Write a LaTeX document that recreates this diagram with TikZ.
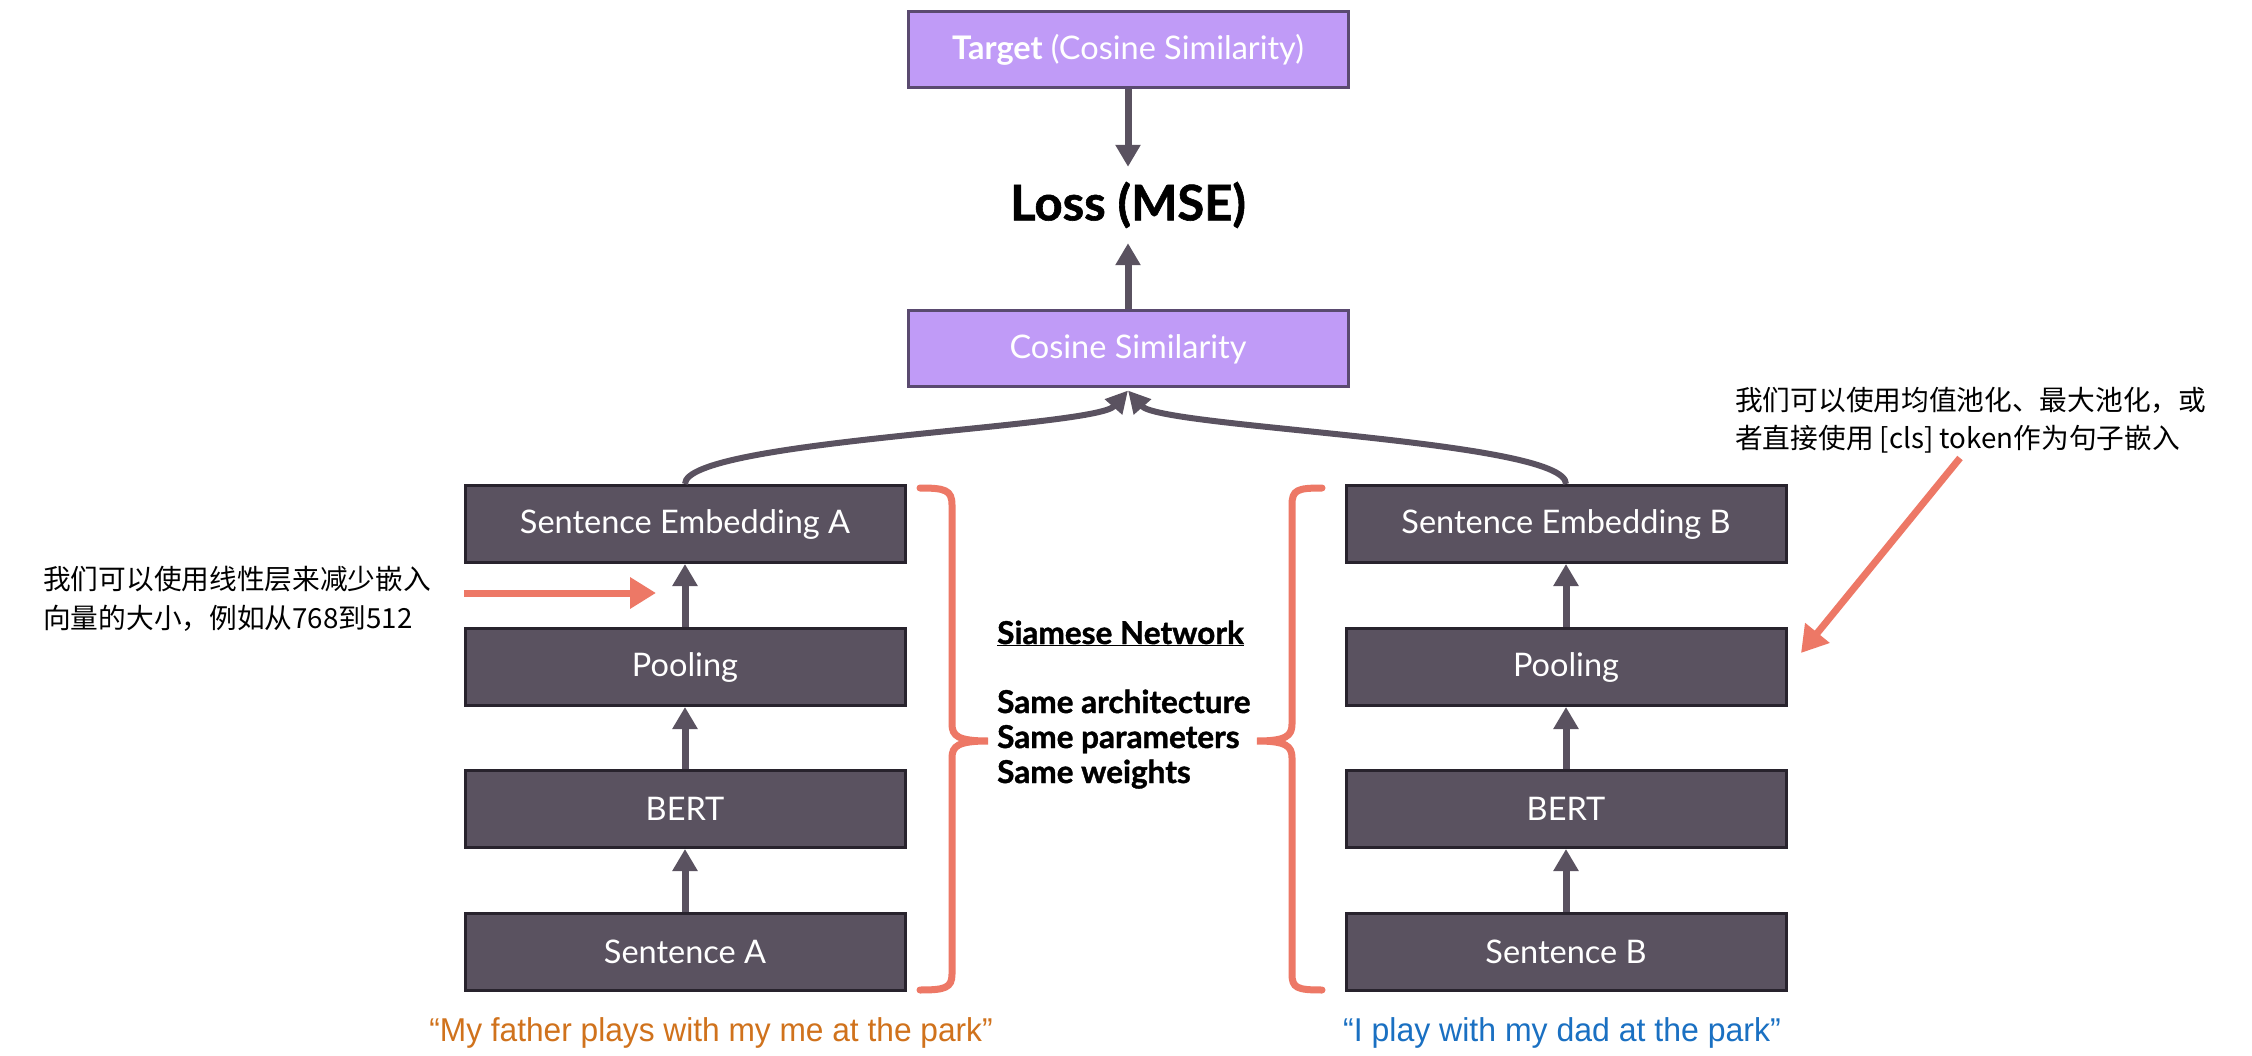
\documentclass[tikz,border=0pt]{standalone}
\usepackage{fontspec}
\usepackage{graphicx}
\setmainfont{Lato}
\newfontfamily\heavy{Lato}[BoldFeatures={FakeBold=1.2}]
\newfontfamily\cjk{Noto Sans CJK SC}
\newfontfamily\arialf{Liberation Sans}
\usetikzlibrary{arrows.meta}
\definecolor{boxdark}{RGB}{90,82,96}
\definecolor{boxedge}{RGB}{40,35,45}
\definecolor{lav}{RGB}{192,155,247}
\definecolor{lavedge}{RGB}{90,74,112}
\definecolor{arr}{RGB}{90,82,96}
\definecolor{salmon}{RGB}{237,120,102}
\definecolor{orangetxt}{RGB}{208,114,28}
\definecolor{bluetxt}{RGB}{26,112,194}
\begin{document}
\begin{tikzpicture}[x=1pt,y=-1pt,
 darkbox/.style={draw=boxedge,line width=3pt,fill=boxdark,text=white,minimum width=440pt,minimum height=77pt,inner sep=0pt,font=\fontsize{32.5}{38}\selectfont},
 lavbox/.style={draw=lavedge,line width=3pt,fill=lav,text=white,minimum width=440pt,minimum height=76pt,inner sep=0pt,font=\fontsize{32.5}{38}\selectfont},
 flow/.style={draw=arr,line width=7pt,-{Triangle[length=22pt,width=24pt]}},
 curved/.style={draw=arr,line width=6pt,-{Triangle[length=22pt,width=22pt]}},
 note/.style={draw=salmon,line width=7pt,-{Triangle[length=26pt,width=30pt]}},
 brace/.style={draw=salmon,line width=7pt,line cap=round},
 siam/.style={anchor=base west,inner sep=0pt,font=\heavy\bfseries\fontsize{31.5}{36}\selectfont},
 cjknote/.style={anchor=west,inner sep=0pt,align=left,font=\cjk\fontsize{27.7}{38.5}\selectfont},
 quote/.style={inner sep=0pt,font=\arialf\fontsize{33}{38}\selectfont},
]
\useasboundingbox (0,0) rectangle (2252,1056);
\fill[white] (0,0) rectangle (2252,1056);

% top part
\node[lavbox] (target) at (1128,50) {\textbf{Target} (Cosine Similarity)};
\node[font=\heavy\bfseries\fontsize{49}{54}\selectfont,minimum height=76pt,inner sep=0pt] (loss) at (1128,205) {Loss (MSE)};
\node[lavbox] (cos) at (1128,349) {Cosine Similarity};

% left column
\node[darkbox] (sea) at (685,524) {Sentence Embedding A};
\node[darkbox] (poola) at (685,667) {Pooling};
\node[darkbox] (berta) at (685,809) {BERT};
\node[darkbox] (senta) at (685,952) {Sentence A};

% right column
\node[darkbox] (seb) at (1566,524) {Sentence Embedding B};
\node[darkbox] (poolb) at (1566,667) {Pooling};
\node[darkbox] (bertb) at (1566,809) {BERT};
\node[darkbox] (sentb) at (1566,952) {Sentence B};

% flow arrows
\draw[flow] (target) -- (loss);
\draw[flow] (cos) -- (loss);
\draw[flow] (senta) -- (berta);
\draw[flow] (berta) -- (poola);
\draw[flow] (poola) -- (sea);
\draw[flow] (sentb) -- (bertb);
\draw[flow] (bertb) -- (poolb);
\draw[flow] (poolb) -- (seb);
\draw[curved] (sea.north) .. controls (685,440) and (1095,428) .. ([yshift=-2pt]cos.south);
\draw[curved] (seb.north) .. controls (1566,440) and (1161,428) .. ([yshift=-2pt]cos.south);

% braces
\draw[brace] (920,488) .. controls (945,488) and (952,490) .. (952,505) -- (952,724)
  .. controls (952,736) and (958,741) .. (988,741)
  .. controls (958,741) and (952,746) .. (952,758) -- (952,974)
  .. controls (952,988) and (945,990) .. (920,990);
\draw[brace] (1322,488) .. controls (1297,488) and (1292,490) .. (1292,505) -- (1292,724)
  .. controls (1292,736) and (1286,741) .. (1257,741)
  .. controls (1286,741) and (1292,746) .. (1292,758) -- (1292,974)
  .. controls (1292,988) and (1297,990) .. (1322,990);

% siamese text
\node[siam] (s1) at (997,644) {\underline{Siamese Network}};
\node[siam] (s2) at (997,713) {Same architecture};
\node[siam] (s3) at (997,748) {Same parameters};
\node[siam] (s4) at (997,783) {Same weights};

% annotations
\node[cjknote] (n1) at (43,599) {我们可以使用线性层来减少嵌入\\向量的大小，例如从768到512};
\coordinate (n1a) at (464,593);
\coordinate (n1b) at (656,593);
\draw[note] (n1a) -- (n1b);

\node[cjknote] (n2) at (1735,420) {我们可以使用均值池化、最大池化，或\\者直接使用 [cls] token作为句子嵌入};
\coordinate (n2a) at (1960,458);
\coordinate (n2b) at (1801,653);
\draw[note] (n2a) -- (n2b);

% quotes
\node[quote,text=orangetxt] (qa) at (711,1033) {\scalebox{0.96}[1]{“My father plays with my me at the park”}};
\node[quote,text=bluetxt] (qb) at (1562,1033) {\scalebox{0.97}[1]{“I play with my dad at the park”}};
\end{tikzpicture}
\end{document}
